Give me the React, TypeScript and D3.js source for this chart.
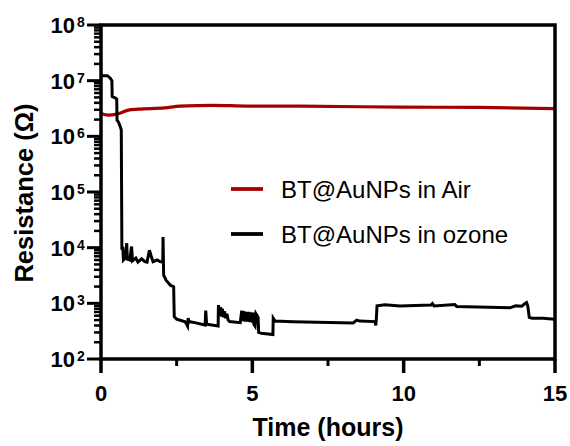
import React from "react";
import * as d3 from "d3";

const airT = [0, 0.24, 0.52, 0.9, 1.23, 2.11, 2.61, 3.7, 4.82, 6.57, 9.88, 12.5, 15];
const airR = [2.57e6, 2.4e6, 2.5e6, 2.96e6, 3.08e6, 3.24e6, 3.48e6, 3.6e6, 3.5e6, 3.48e6, 3.35e6, 3.3e6, 3.15e6];

const ozoneT = [
  0.03, 0.21, 0.3, 0.36, 0.37, 0.5, 0.52, 0.53, 0.58, 0.64, 0.67, 0.69, 0.72, 0.74, 0.8, 0.85, 0.87, 0.95,
  1.01, 1.04, 1.15, 1.22, 1.34, 1.45, 1.52, 1.6, 1.66, 1.72, 1.85, 1.95, 2.04, 2.05, 2.07, 2.15, 2.3, 2.4,
  2.42, 2.5, 2.78, 2.83, 2.86, 2.88, 2.9, 3.1, 3.44, 3.46, 3.49, 3.87, 3.88, 3.92, 3.95, 3.98, 4.01, 4.05,
  4.08, 4.12, 4.16, 4.2, 4.25, 4.6, 4.65, 4.68, 4.72, 4.76, 4.8, 4.84, 4.88, 4.92, 4.96, 5.0, 5.02, 5.05,
  5.09, 5.12, 5.16, 5.19, 5.21, 5.3, 5.68, 5.69, 5.75, 6.34, 8.33, 8.45, 8.55, 9.05, 9.08, 9.1, 9.12, 9.38,
  9.88, 10.9, 10.95, 11.0, 11.69, 11.75, 13.51, 13.7, 13.9, 14.0, 14.06, 14.1, 14.15, 14.24, 14.6, 15.0,
];
const ozoneR = [
  1.22e7, 1.22e7, 1.12e7, 1.0e7, 5.2e6, 4.8e6, 4.6e6, 1.95e6, 1.8e6, 1.48e6, 1.3e6, 9.8e3, 9.8e3, 6.0e3, 6.5e3, 1.2e4, 6.2e3, 6.0e3,
  1.05e4, 5.8e3, 6.5e3, 5.5e3, 6.3e3, 5.6e3, 5.5e3, 9.0e3, 7.0e3, 5.6e3, 6.0e3, 5.6e3, 5.5e3, 1.55e4, 3.2e3, 2.6e3, 2.1e3, 1.99e3,
  575, 520, 468, 420, 390, 544, 470, 450, 407, 738, 420, 390, 930, 620, 850, 580, 800, 560,
  720, 540, 650, 500, 470, 450, 740, 480, 720, 470, 700, 470, 700, 460, 690, 450, 680, 420,
  390, 650, 600, 560, 300, 290, 275, 540, 480, 468, 445, 500, 480, 470, 400, 560, 900, 940,
  900, 930, 990, 900, 950, 880, 830, 900, 890, 980, 1030, 900, 560, 540, 540, 516,
];

const xTicks = [0, 5, 10, 15];
const xMinorTicks = [2.5, 7.5, 12.5];
const yExponents = [2, 3, 4, 5, 6, 7, 8];
const legendLabels = ["BT@AuNPs in Air", "BT@AuNPs in ozone"];
const seriesColors = ["#a50000", "#000000"];

const W = 570;
const H = 446;
const M = { left: 101, right: 555, top: 25, bottom: 359 };
const FONT = "'Liberation Sans', Arial, sans-serif";

export default function App() {
  const x = d3.scaleLinear().domain([0, 15]).range([M.left, M.right]);
  const y = d3.scaleLog().domain([1e2, 1e8]).range([M.bottom, M.top]);

  const line = d3
    .line<[number, number]>()
    .x((d) => x(d[0]))
    .y((d) => y(d[1]));

  const airData: [number, number][] = airT.map((t, i) => [t, airR[i]]);
  const ozoneData: [number, number][] = ozoneT.map((t, i) => [t, ozoneR[i]]);
  const airPath = d3.line<[number, number]>().x((d) => x(d[0])).y((d) => y(d[1])).curve(d3.curveMonotoneX)(airData) || "";
  const ozonePath = line(ozoneData) || "";

  const minorY: number[] = [];
  for (let e = 2; e < 8; e++) {
    for (let k = 2; k <= 9; k++) minorY.push(k * Math.pow(10, e));
  }

  return (
    <svg width={W} height={H} style={{ position: "absolute", left: 0, top: 0, background: "#fff" }} fontFamily={FONT}>
      <rect x={0} y={0} width={W} height={H} fill="#fff" />
      {/* data */}
      <path d={airPath} fill="none" stroke={seriesColors[0]} strokeWidth={3.2} />
      <path d={ozonePath} fill="none" stroke={seriesColors[1]} strokeWidth={3} strokeLinejoin="miter" />

      {/* frame */}
      <rect x={M.left} y={M.top} width={M.right - M.left} height={M.bottom - M.top} fill="none" stroke="#000" strokeWidth={3.5} />

      {/* y ticks */}
      {minorY.map((v, i) => (
        <line key={"my" + i} x1={M.left - 7} x2={M.left} y1={y(v)} y2={y(v)} stroke="#000" strokeWidth={2.5} />
      ))}
      {yExponents.map((e) => (
        <g key={"y" + e}>
          <line x1={M.left - 14} x2={M.left} y1={y(Math.pow(10, e))} y2={y(Math.pow(10, e))} stroke="#000" strokeWidth={3} />
          <text x={75} y={y(Math.pow(10, e)) + 8} textAnchor="end" fontSize={22} fontWeight="bold">10</text>
          <text x={77} y={y(Math.pow(10, e)) + 2} textAnchor="start" fontSize={14} fontWeight="bold">{e}</text>
        </g>
      ))}

      {/* x ticks */}
      {xMinorTicks.map((t) => (
        <line key={"mx" + t} x1={x(t)} x2={x(t)} y1={M.bottom} y2={M.bottom + 7} stroke="#000" strokeWidth={3} />
      ))}
      {xTicks.map((t) => (
        <g key={"x" + t}>
          <line x1={x(t)} x2={x(t)} y1={M.bottom} y2={M.bottom + 14} stroke="#000" strokeWidth={3.5} />
          <text x={x(t)} y={401} textAnchor="middle" fontSize={22} fontWeight="bold">{t}</text>
        </g>
      ))}

      {/* titles */}
      <text x={(M.left + M.right) / 2} y={436} textAnchor="middle" fontSize={25} fontWeight="bold">Time (hours)</text>
      <text transform={`translate(33, 193) rotate(-90)`} textAnchor="middle" fontSize={25.5} fontWeight="bold">Resistance (Ω)</text>

      {/* legend */}
      {legendLabels.map((lab, i) => (
        <g key={lab}>
          <line x1={231} x2={263} y1={189 + i * 45} y2={189 + i * 45} stroke={seriesColors[i]} strokeWidth={3.8} />
          <text x={281} y={189 + i * 45 + 9} fontSize={24}>{lab}</text>
        </g>
      ))}
    </svg>
  );
}
